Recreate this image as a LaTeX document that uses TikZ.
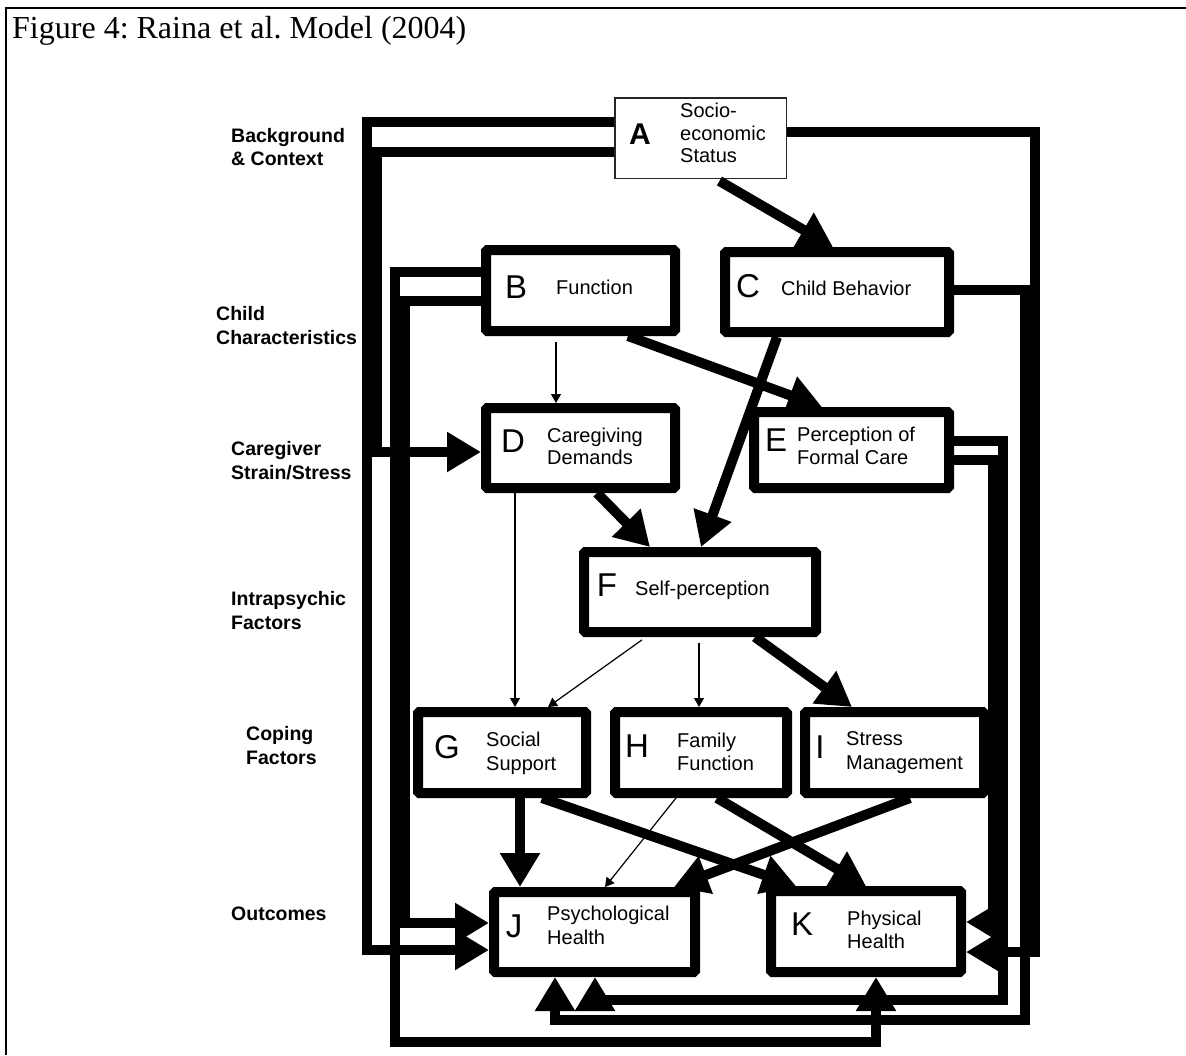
\documentclass[tikz,border=0pt]{standalone}
\usepackage{fontspec}
\setmainfont{Liberation Serif}
\newfontfamily\arialf{Liberation Sans}
\usetikzlibrary{arrows.meta}
\frenchspacing
\begin{document}
\begin{tikzpicture}[x=1pt,y=-1pt,
  box/.style={draw, line width=10pt, inner sep=0pt, outer sep=5pt, rounded corners=1.5pt},
  letr/.style={font=\arialf\fontsize{33}{36}\selectfont, inner sep=0pt},
  txt/.style={font=\arialf\fontsize{20}{23}\selectfont, inner sep=0pt, anchor=base west},
  lab/.style={font=\arialf\bfseries\fontsize{19.5}{23}\selectfont, inner sep=0pt, anchor=base west},
  big/.style={line width=10pt, -{Triangle[length=34pt,width=38pt]}},
  thinarr/.style={line width=1.2pt, -{Triangle[length=9pt,width=10pt]}}
]
\useasboundingbox (0,0) rectangle (1186,1055);
% frame and title
\draw[line width=2.5pt] (6,1055) -- (6,8) -- (1186,8);
\node[anchor=base west, inner sep=0pt, font=\fontsize{32}{36}\selectfont] (title) at (12,38) {Figure 4: Raina et al. Model (2004)};

% left labels
\node[lab] (bg1) at (231,142) {Background};
\node[lab] (bg2) at (231,165) {\& Context};
\node[lab] (cc1) at (216,320) {Child};
\node[lab] (cc2) at (216,344) {Characteristics};
\node[lab] (cs1) at (231,455) {Caregiver};
\node[lab] (cs2) at (231,479) {Strain/Stress};
\node[lab] (ip1) at (231,605) {Intrapsychic};
\node[lab] (ip2) at (231,629) {Factors};
\node[lab] (cf1) at (246,740) {Coping};
\node[lab] (cf2) at (246,764) {Factors};
\node[lab] (oc1) at (231,920) {Outcomes};

% boxes
\node[draw=black!85, line width=1.5pt, inner sep=0pt, outer sep=0.75pt,
      minimum width=171.5pt, minimum height=80.5pt] (A) at (700.5,138) {};
\node[box, minimum width=189pt, minimum height=81pt] (B) at (580.5,290.5) {};
\node[box, minimum width=224pt, minimum height=80pt] (C) at (837,292) {};
\node[box, minimum width=189pt, minimum height=80pt] (D) at (580.5,448) {};
\node[box, minimum width=195pt, minimum height=76pt] (E) at (851.5,450) {};
\node[box, minimum width=232pt, minimum height=80pt] (F) at (700,592) {};
\node[box, minimum width=168pt, minimum height=81pt] (G) at (502,752.5) {};
\node[box, minimum width=172pt, minimum height=81pt] (H) at (701,752.5) {};
\node[box, minimum width=179pt, minimum height=81pt] (I) at (894.5,752.5) {};
\node[box, minimum width=201pt, minimum height=80pt] (J) at (594.5,932) {};
\node[box, minimum width=190pt, minimum height=81pt] (K) at (866,931.5) {};

% box letters
\node[inner sep=0pt, font=\arialf\bfseries\fontsize{30}{30}\selectfont] (lA) at (640,134) {A};
\node[letr] (lB) at (516,287) {B};
\node[letr] (lC) at (748,286) {C};
\node[letr] (lD) at (513,441) {D};
\node[letr] (lE) at (776,440) {E};
\node[letr] (lF) at (607,585) {F};
\node[letr] (lG) at (447,747) {G};
\node[letr] (lH) at (637,746) {H};
\node[letr] (lI) at (820,747) {I};
\node[letr] (lJ) at (514,926) {J};
\node[letr] (lK) at (802,924) {K};

% box texts
\node[txt] (tA1) at (680,117) {Socio-};
\node[txt] (tA2) at (680,140) {economic};
\node[txt] (tA3) at (680,162) {Status};
\node[txt] (tB) at (556,294) {Function};
\node[txt] (tC) at (781,295) {Child Behavior};
\node[txt] (tD1) at (547,442) {Caregiving};
\node[txt] (tD2) at (547,464) {Demands};
\node[txt] (tE1) at (797,441) {Perception of};
\node[txt] (tE2) at (797,464) {Formal Care};
\node[txt] (tF) at (635,595) {Self-perception};
\node[txt] (tG1) at (486,746) {Social};
\node[txt] (tG2) at (486,770) {Support};
\node[txt] (tH1) at (677,747) {Family};
\node[txt] (tH2) at (677,770) {Function};
\node[txt] (tI1) at (846,745) {Stress};
\node[txt] (tI2) at (846,769) {Management};
\node[txt] (tJ1) at (547,920) {Psychological};
\node[txt] (tJ2) at (547,944) {Health};
\node[txt] (tK1) at (847,925) {Physical};
\node[txt] (tK2) at (847,948) {Health};

% long routed connectors (left)
\draw[big] (A.west |- 0,122) -- (367,122) -- (367,950) -- (J.west |- 0,950);
\draw[big] (A.west |- 0,152) -- (377,152) -- (377,452) -- (D.west |- 0,452);
\draw[big] (B.west |- 0,272) -- (395,272) -- (395,1042) -- (876,1042) -- (K.south -| 876,0);
\draw[big] (B.west |- 0,301) -- (405,301) -- (405,923) -- (J.west |- 0,923);
% long routed connectors (right)
\draw[big] (A.east |- 0,132) -- (1035,132) -- (1035,952) -- (K.east |- 0,952);
\draw[big] (C.east |- 0,290) -- (1025,290) -- (1025,1020) -- (555,1020) -- (J.south -| 555,0);
\draw[big] (E.east |- 0,441) -- (1003,441) -- (1003,1000) -- (595,1000) -- (J.south -| 595,0);
\draw[big] (E.east |- 0,460) -- (993,460) -- (993,922) -- (K.east |- 0,922);

% direct connectors
\draw[big, shorten <=4pt] (A.south -| 716,0) -- (C.north -| 833,0);
\draw[thinarr, shorten <=6pt] (B.south -| 556,0) -- (D.north -| 556,0);
\draw[big] (B.south -| 628,0) -- (E.north -| 822,0);
\draw[big] (C.south -| 777,0) -- (F.north -| 701,0);
\draw[big] (D.south -| 597,0) -- (F.north -| 650,0);
\draw[thinarr] (D.south -| 515,0) -- (G.north -| 515,0);
\draw[thinarr, shorten <=5pt] (F.south -| 646,0) -- (G.north -| 548,0);
\draw[thinarr, shorten <=6pt] (F.south -| 699,0) -- (H.north -| 699,0);
\draw[big] (F.south -| 755,0) -- (I.north -| 852,0);
\draw[big] (G.south -| 520,0) -- (J.north -| 520,0);
\draw[big] (G.south -| 542,0) -- (K.north -| 796,0);
\draw[thinarr] (H.south -| 676,0) -- (J.north -| 605,0);
\draw[big] (H.south -| 717,0) -- (K.north -| 866,0);
\draw[big] (I.south -| 910,0) -- (J.north -| 674,0);
\end{tikzpicture}
\end{document}
